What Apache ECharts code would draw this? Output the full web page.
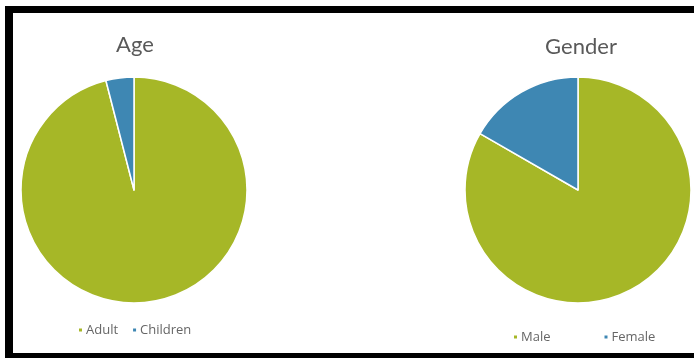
<!DOCTYPE html>
<html>
<head>
<meta charset="utf-8">
<script src="https://cdn.jsdelivr.net/npm/echarts@6/dist/echarts.min.js"></script>
<style>
  html, body { margin: 0; padding: 0; background: #fff; }
  #frame {
    position: absolute; left: 5px; top: 6px; width: 685px; height: 340px;
    border-top: 7px solid #000; border-left: 8px solid #000;
    border-bottom: 6px solid #000; border-right: 1px solid #999;
  }
  #chart { position: absolute; left: 0; top: 0; width: 694px; height: 358px; }
</style>
</head>
<body>
<div id="frame"></div>
<div id="chart"></div>
<script>
// 年龄
const ageNames = ['Adult', 'Children'];
const ageValues = [96, 4];
// 性别
const genderNames = ['Male', 'Female'];
const genderValues = [83.3, 16.7];

const green = '#A6B727';
const blue = '#3E87B3';

var myChart = echarts.init(document.getElementById('chart'));

function toData(names, values) {
    return names.map(function (n, i) {
        return { name: n, value: values[i] };
    });
}

var legendText = {
    fontFamily: 'Open Sans', fontSize: 13, color: '#666',
    lineHeight: 14, padding: [0, 0, 0, -2]
};
var titleText = { fontFamily: 'Lato', fontSize: 22, fontWeight: 'normal', color: '#595959' };

var option = {
    color: [green, blue],
    animation: false,
    title: [{
        text: 'Age',
        left: 130, top: 29,
        textAlign: 'center',
        textStyle: titleText
    }, {
        text: 'Gender',
        left: 576, top: 31,
        textAlign: 'center',
        textStyle: titleText
    }],
    legend: [{
        data: ageNames,
        left: 77, top: 323, padding: 0,
        icon: 'rect', itemWidth: 5, itemHeight: 5, itemGap: 13,
        textStyle: legendText
    }, {
        data: genderNames,
        left: 512, top: 330, padding: 0,
        icon: 'rect', itemWidth: 5, itemHeight: 5, itemGap: 52,
        textStyle: legendText
    }],
    series: [{
        type: 'pie',
        center: [134, 190],
        radius: 113,
        startAngle: 90,
        label: { show: false },
        labelLine: { show: false },
        itemStyle: { borderColor: '#fff', borderWidth: 1.5 },
        emphasis: { disabled: true },
        data: toData(ageNames, ageValues)
    }, {
        type: 'pie',
        center: [578, 190],
        radius: 113,
        startAngle: 90,
        label: { show: false },
        labelLine: { show: false },
        itemStyle: { borderColor: '#fff', borderWidth: 1.5 },
        emphasis: { disabled: true },
        data: toData(genderNames, genderValues)
    }]
};
myChart.setOption(option);
</script>
</body>
</html>
